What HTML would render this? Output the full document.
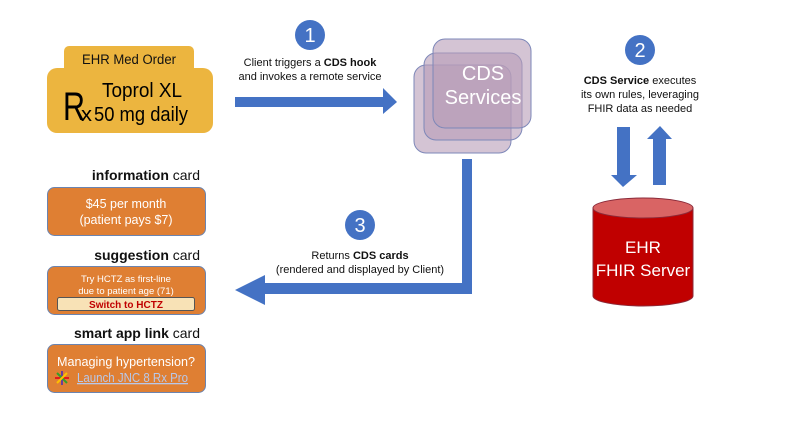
<!DOCTYPE html>
<html><head><meta charset="utf-8"><style>
html,body{margin:0;padding:0;background:#fff}
svg{display:block}
.a{font-family:"Liberation Sans",Arial,sans-serif}
.c{font-family:"Liberation Sans",Arial,sans-serif}
</style></head><body>
<svg width="789" height="422" viewBox="0 0 789 422" xmlns="http://www.w3.org/2000/svg">
<!-- EHR Med Order -->
<rect x="64" y="46" width="130" height="30" rx="5" fill="#ecb53f"/>
<rect x="47" y="68" width="166" height="65" rx="10" fill="#ecb53f"/>
<text x="129" y="64" class="c" font-size="13.5" text-anchor="middle" fill="#111" textLength="94" lengthAdjust="spacingAndGlyphs">EHR Med Order</text>
<text x="63" y="120" class="c" font-size="40" fill="#000" textLength="22" lengthAdjust="spacingAndGlyphs">R</text>
<text x="81" y="121" class="c" font-size="20" fill="#000" textLength="11" lengthAdjust="spacingAndGlyphs">x</text>
<text x="102" y="97" class="c" font-size="20" fill="#000" textLength="80" lengthAdjust="spacingAndGlyphs">Toprol XL</text>
<text x="94" y="121" class="c" font-size="20" fill="#000" textLength="94" lengthAdjust="spacingAndGlyphs">50 mg daily</text>

<!-- cards -->
<text x="200" y="180" class="a" font-size="14" text-anchor="end" fill="#111"><tspan font-weight="bold">information</tspan> card</text>
<rect x="47.5" y="187.5" width="158" height="48" rx="7" fill="#df7f33" stroke="#6b84b0" stroke-width="1"/>
<text x="126" y="208" class="c" font-size="12.5" text-anchor="middle" fill="#fff">$45 per month</text>
<text x="126" y="224" class="c" font-size="12.5" text-anchor="middle" fill="#fff">(patient pays $7)</text>

<text x="200" y="260" class="a" font-size="14" text-anchor="end" fill="#111"><tspan font-weight="bold">suggestion</tspan> card</text>
<rect x="47.5" y="266.5" width="158" height="48" rx="7" fill="#df7f33" stroke="#6b84b0" stroke-width="1"/>
<text x="126" y="282" class="c" font-size="9.5" text-anchor="middle" fill="#fff">Try HCTZ as first-line</text>
<text x="126" y="294" class="c" font-size="9.5" text-anchor="middle" fill="#fff">due to patient age (71)</text>
<rect x="57.5" y="297.5" width="137" height="13" rx="2" fill="#f8e2b6" stroke="#555" stroke-width="1"/>
<text x="126" y="308" class="c" font-size="10" font-weight="bold" text-anchor="middle" fill="#c00000">Switch to HCTZ</text>

<text x="200" y="338" class="a" font-size="14" text-anchor="end" fill="#111"><tspan font-weight="bold">smart app link</tspan> card</text>
<rect x="47.5" y="344.5" width="158" height="48" rx="7" fill="#df7f33" stroke="#6b84b0" stroke-width="1"/>
<text x="126" y="366" class="c" font-size="13" text-anchor="middle" fill="#fff" textLength="138" lengthAdjust="spacingAndGlyphs">Managing hypertension?</text>
<g stroke-width="2">
<line x1="62" y1="371" x2="62" y2="385" stroke="#6a3d9a"/>
<line x1="55" y1="378" x2="69" y2="378" stroke="#e31a1c"/>
<line x1="57" y1="373" x2="67" y2="383" stroke="#33a02c"/>
<line x1="67" y1="373" x2="57" y2="383" stroke="#ffbf00"/>
</g>
<text x="77" y="382" class="c" font-size="13" fill="#b8c8ea" text-decoration="underline" textLength="111" lengthAdjust="spacingAndGlyphs">Launch JNC 8 Rx Pro</text>

<!-- step 1 -->
<circle cx="310" cy="35" r="15" fill="#4472c4"/>
<text x="310" y="42" class="c" font-size="20" text-anchor="middle" fill="#fff">1</text>
<text x="310" y="66" class="a" font-size="11" text-anchor="middle" fill="#111">Client triggers a <tspan font-weight="bold">CDS hook</tspan></text>
<text x="310" y="80" class="a" font-size="11" text-anchor="middle" fill="#111">and invokes a remote service</text>
<polygon points="235,97 383,97 383,88 397,102 383,114 383,107 235,107" fill="#4472c4"/>

<!-- CDS services -->
<rect x="414" y="65" width="97" height="88" rx="12" fill="#b79cb8" fill-opacity="0.6" stroke="#7d87b8" stroke-width="1"/>
<rect x="424" y="53" width="98" height="87" rx="12" fill="#b79cb8" fill-opacity="0.6" stroke="#7d87b8" stroke-width="1"/>
<rect x="433" y="39" width="98" height="89" rx="12" fill="#b79cb8" fill-opacity="0.6" stroke="#7d87b8" stroke-width="1"/>
<text x="483" y="80" class="c" font-size="20" text-anchor="middle" fill="#fff">CDS</text>
<text x="483" y="104" class="c" font-size="20" text-anchor="middle" fill="#fff">Services</text>

<!-- step 2 -->
<circle cx="640" cy="50" r="15" fill="#4472c4"/>
<text x="640" y="57" class="c" font-size="20" text-anchor="middle" fill="#fff">2</text>
<text x="640" y="84" class="a" font-size="11" text-anchor="middle" fill="#111"><tspan font-weight="bold">CDS Service</tspan> executes</text>
<text x="640" y="98" class="a" font-size="11" text-anchor="middle" fill="#111">its own rules, leveraging</text>
<text x="640" y="112" class="a" font-size="11" text-anchor="middle" fill="#111">FHIR data as needed</text>
<polygon points="617,127 630,127 630,175 637,175 623,187 611,175 617,175" fill="#4472c4"/>
<polygon points="653,185 666,185 666,139 672,139 660,126 647,139 653,139" fill="#4472c4"/>

<!-- cylinder -->
<path d="M593,208 L593,296 A50,10 0 0 0 693,296 L693,208 Z" fill="#c00000" stroke="#8b2b3a" stroke-width="1"/>
<ellipse cx="643" cy="208" rx="50" ry="10" fill="#d96464" stroke="#8b2b3a" stroke-width="1"/>
<text x="643" y="253" class="c" font-size="17" text-anchor="middle" fill="#fff">EHR</text>
<text x="643" y="276" class="c" font-size="17" text-anchor="middle" fill="#fff">FHIR Server</text>

<!-- step 3 -->
<polygon points="462,159 472,159 472,294 265,294 265,305 235,290 265,275 265,283 462,283" fill="#4472c4"/>
<circle cx="360" cy="225" r="15" fill="#4472c4"/>
<text x="360" y="232" class="c" font-size="20" text-anchor="middle" fill="#fff">3</text>
<text x="360" y="259" class="a" font-size="11" text-anchor="middle" fill="#111">Returns <tspan font-weight="bold">CDS cards</tspan></text>
<text x="360" y="273" class="a" font-size="11" text-anchor="middle" fill="#111">(rendered and displayed by Client)</text>
</svg>
</body></html>
